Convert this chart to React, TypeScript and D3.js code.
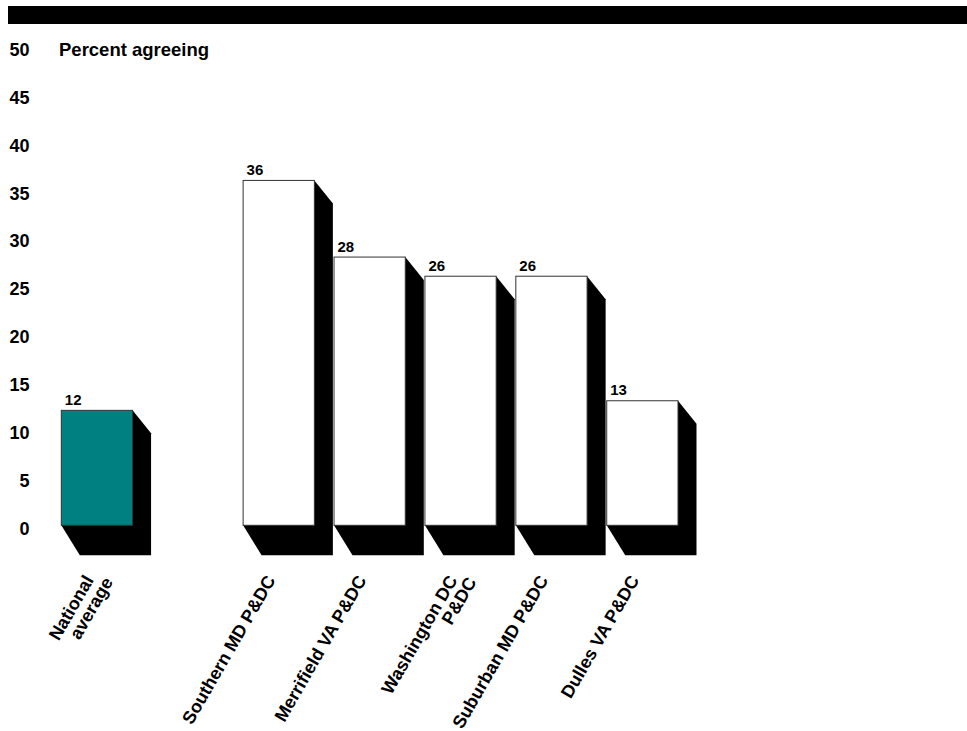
import React from "react";
import * as d3 from "d3";

// Survey results: share of respondents agreeing, by location
const categories: string[][] = [
  ["National", "average"],
  [],
  ["Southern MD P&DC"],
  ["Merrifield VA P&DC"],
  ["Washington DC", "P&DC"],
  ["Suburban MD P&DC"],
  ["Dulles VA P&DC"],
];
const values: (number | null)[] = [12, null, 36, 28, 26, 26, 13];
const highlighted: boolean[] = [true, false, false, false, false, false, false];
const yTicks: number[] = [0, 5, 10, 15, 20, 25, 30, 35, 40, 45, 50];
const axisTitle = "Percent agreeing";

const W = 967;
const H = 731;
const FONT = "Arial, 'Liberation Sans', Helvetica, sans-serif";

export default function App() {
  const keys = categories.map((_, i) => String(i));
  const x = d3
    .scaleBand<string>()
    .domain(keys)
    .range([61.3, 678])
    .paddingInner(0.216)
    .paddingOuter(0);
  const y = d3.scaleLinear().domain([0, 50]).range([525.3, 46.3]);

  const depthX = 18.5;
  const depthTop = 23;
  const depthBottom = 30;
  const bw = x.bandwidth();
  const y0 = y(0);

  const shadowPath = (v: number, left: number) => {
    const right = left + bw;
    const top = y(v);
    const p = d3.path();
    p.moveTo(right, top);
    p.lineTo(right + depthX, top + depthTop);
    p.lineTo(right + depthX, y0 + depthBottom);
    p.lineTo(left + depthX, y0 + depthBottom);
    p.lineTo(left, y0);
    p.closePath();
    return p.toString();
  };

  return (
    <svg
      width={W}
      height={H}
      style={{ position: "absolute", left: 0, top: 0, background: "#fff" }}
      fontFamily={FONT}
    >
      <rect x={8} y={6} width={W - 8} height={18} fill="#000" />

      {yTicks.map((t) => (
        <text
          key={t}
          x={29.5}
          y={y(t) + 9.5}
          textAnchor="end"
          fontSize={18}
          fontWeight="bold"
          fill="#000"
        >
          {t}
        </text>
      ))}
      <text x={59} y={y(50) + 9.5} fontSize={18.5} fontWeight="bold" fill="#000">
        {axisTitle}
      </text>

      {values.map((v, i) =>
        v == null ? null : (
          <path key={"s" + i} d={shadowPath(v, x(keys[i])!)} fill="#000" />
        )
      )}

      {values.map((v, i) =>
        v == null ? null : (
          <g key={"b" + i}>
            <rect
              x={x(keys[i])!}
              y={y(v)}
              width={bw}
              height={y0 - y(v)}
              fill={highlighted[i] ? "#008080" : "#ffffff"}
              stroke="#333"
              strokeWidth={1}
            />
            <text
              x={x(keys[i])! + 3.5}
              y={y(v) - 5.5}
              fontSize={15}
              fontWeight="bold"
              fill="#000"
            >
              {v}
            </text>
          </g>
        )
      )}

      {categories.map((lines, i) => {
        if (!lines.length) return null;
        const ax = x(keys[i])! + 33;
        const ay = 580;
        return (
          <g key={"l" + i} transform={`translate(${ax},${ay}) rotate(-60)`}>
            {lines.map((ln, j) => (
              <text
                key={j}
                x={j * 8}
                y={j * 17.5}
                textAnchor="end"
                fontSize={18}
                fontWeight="bold"
                fill="#000"
              >
                {ln}
              </text>
            ))}
          </g>
        );
      })}
    </svg>
  );
}
